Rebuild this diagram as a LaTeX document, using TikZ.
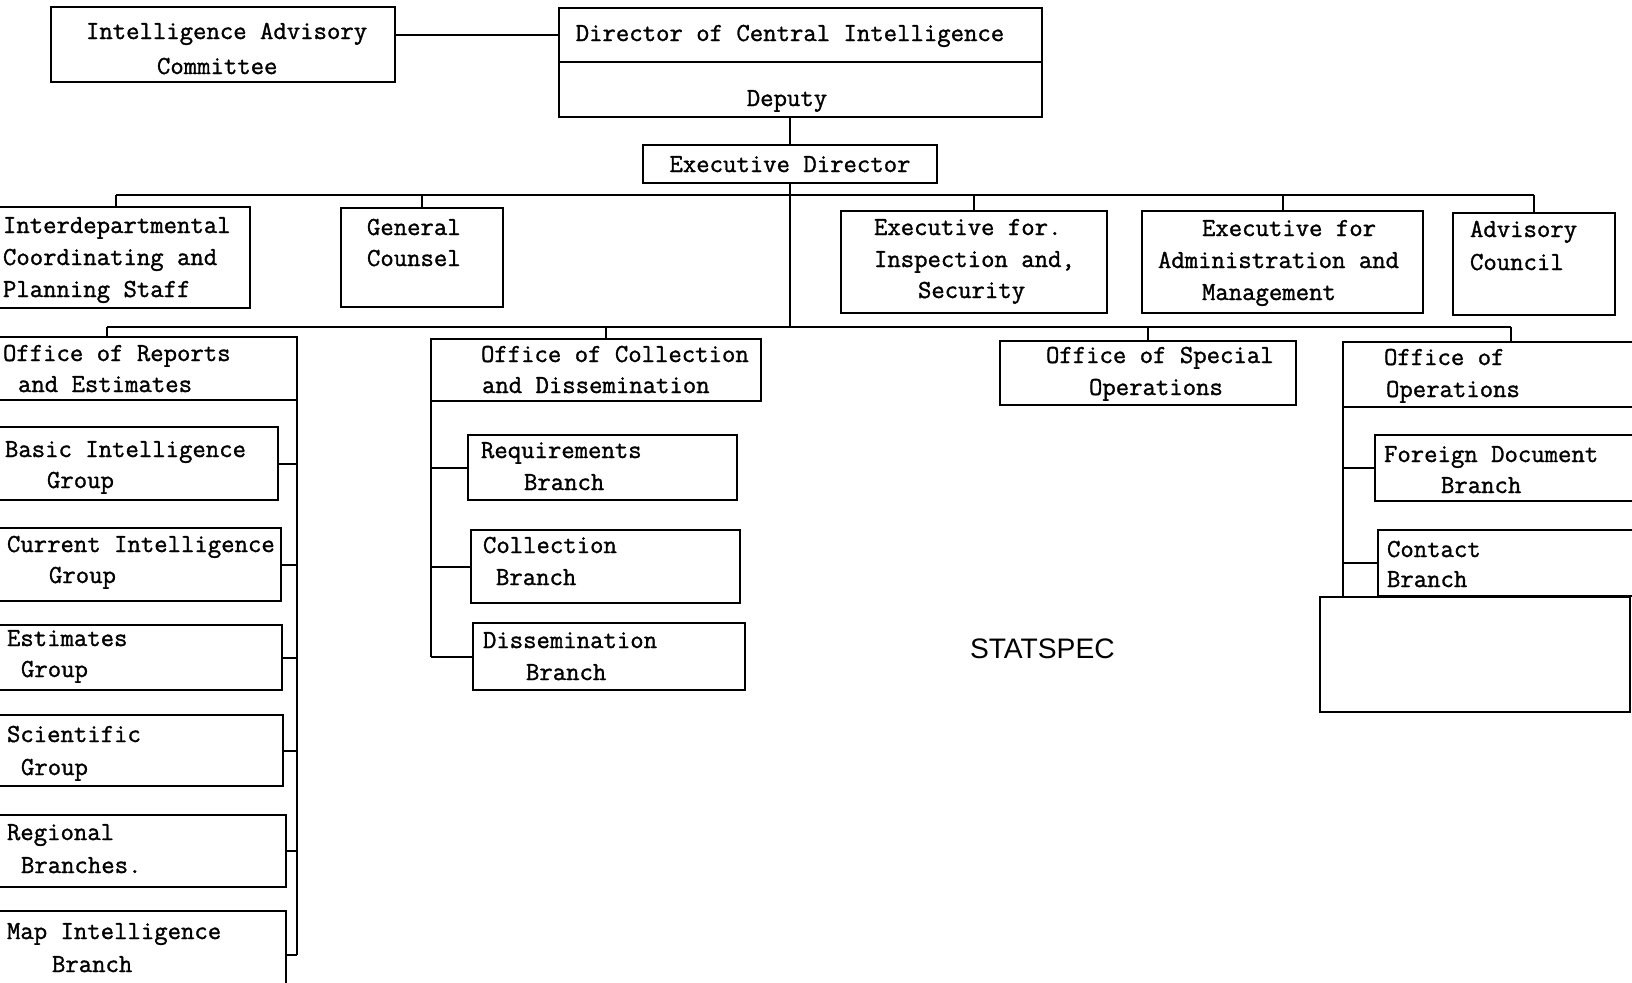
\documentclass[tikz,border=0pt]{standalone}
\usepackage{fontspec}
\newfontfamily\statfont{Liberation Sans}
\newfontfamily\typew{Latin Modern Mono}[FakeBold=1.2]
\tikzset{
  box/.style={draw=black, line width=1.25pt, inner sep=0pt, outer sep=0pt, rectangle},
  redact/.style={draw=black, fill=white, line width=1.4pt, inner sep=0pt, outer sep=0pt, rectangle},
  txt/.style={inner sep=0pt, outer sep=0pt, font=\typew\fontsize{13}{16}\selectfont},
  conn/.style={draw=black, line width=1pt},
}
\newcommand\bx[6][box]{\node[#1, anchor=north west, minimum width={(#5-#3)*0.5pt}, minimum height={(#6-#4)*0.5pt}] (#2) at (#3,#4) {};}
\newcommand\tl[5][base west]{\node[txt, anchor=#1] (#2) at (#3,#4) {#5};}
\begin{document}
\begin{tikzpicture}[x=0.5pt,y=-0.5pt]
\useasboundingbox (0,0) rectangle (1632,982);
\clip (0,0) rectangle (1632,982);
\fill[white] (0,0) rectangle (1632,982);
% boxes
\bx{iac}{51}{7}{395}{82}
\bx{dci}{559}{8}{1042}{62}
\bx{dep}{559}{62}{1042}{117}
\bx{ed}{643}{145}{937}{183}
\bx{idp}{-18}{207}{250}{308}
\bx{gc}{341}{208}{503}{307}
\bx{eis}{841}{211}{1107}{313}
\bx{eam}{1142}{211}{1423}{313}
\bx{adv}{1453}{213}{1615}{315}
\bx{ore}{-83}{337}{297}{400}
\bx{ocd}{431}{339}{761}{401}
\bx{oso}{1000}{341}{1296}{405}
\bx{ooo}{1343}{342}{1679}{407}
\bx{big}{-20}{427}{278}{500}
\bx{cig}{-20}{528}{281}{601}
\bx{esg}{-20}{625}{282}{690}
\bx{scg}{-20}{715}{283}{786}
\bx{rgb}{-20}{815}{286}{887}
\bx{mib}{-20}{911}{286}{999}
\bx{rqb}{468}{435}{737}{500}
\bx{clb}{471}{530}{740}{603}
\bx{dsb}{473}{623}{745}{690}
\bx{fdb}{1375}{435}{1700}{501}
\bx{cnb}{1378}{530}{1700}{596}
% connectors
\coordinate (sbus) at (0,195);
\coordinate (obus) at (0,327);
\coordinate (opsend) at (1343,597);
\draw[conn] (iac.east |- dci.west) -- (dci.west);
\draw[conn] (dep.south -| ed.north) -- (ed.north);
\draw[conn] (ed.south) -- (ed.south |- obus);
\draw[conn] (idp.north |- sbus) -- (adv.north |- sbus);
\foreach \n in {idp,gc,eis,eam,adv} \draw[conn] (\n.north) -- (\n.north |- sbus);
\draw[conn] (ore.north |- obus) -- (ooo.north |- obus);
\foreach \n in {ore,oso,ooo} \draw[conn] (\n.north) -- (\n.north |- obus);
\draw[conn] ([xshift=5pt]ocd.north) -- ([xshift=5pt]ocd.north |- obus);
\draw[conn] (ore.south east) -- (ore.south east |- mib.east);
\foreach \n in {big,cig,esg,scg,rgb,mib} \draw[conn] (\n.east) -- (ore.south east |- \n.east);
\draw[conn] (ocd.south west) -- (ocd.south west |- dsb.west);
\foreach \n in {rqb,clb,dsb} \draw[conn] (\n.west) -- (ocd.south west |- \n.west);
\draw[conn] (ooo.south west) -- (opsend);
\foreach \n in {fdb,cnb} \draw[conn] (\n.west) -- (ooo.south west |- \n.west);
% texts
\tl{t1}{86}{39}{Intelligence Advisory}
\tl{t2}{157}{74}{Committee}
\tl[base]{t3}{790}{41}{Director of Central Intelligence}
\tl[base]{t4}{787}{106}{Deputy}
\tl[base]{t5}{790}{172}{Executive Director}
\tl{t6}{3}{233}{Interdepartmental}
\tl{t7}{3}{265}{Coordinating and}
\tl{t8}{3}{297}{Planning Staff}
\tl{t9}{367}{235}{General}
\tl{t10}{367}{266}{Counsel}
\tl{t11}{874}{235}{Executive for.}
\tl{t12}{874}{267}{Inspection and,}
\tl{t13}{918}{298}{Security}
\tl{t14}{1202}{236}{Executive for}
\tl{t15}{1158}{268}{Administration and}
\tl{t16}{1202}{300}{Management}
\tl{t17}{1470}{237}{Advisory}
\tl{t18}{1470}{270}{Council}
\tl{t19}{3}{361}{Office of Reports}
\tl{t20}{18}{392}{and Estimates}
\tl{t21}{481}{362}{Office of Collection}
\tl{t22}{482}{393}{and Dissemination}
\tl{t23}{1046}{363}{Office of Special}
\tl{t24}{1089}{395}{Operations}
\tl{t25}{1384}{365}{Office of}
\tl{t26}{1386}{397}{Operations}
\tl{t27}{5}{457}{Basic Intelligence}
\tl{t28}{47}{488}{Group}
\tl{t29}{7}{552}{Current Intelligence}
\tl{t30}{49}{583}{Group}
\tl{t31}{7}{646}{Estimates}
\tl{t32}{21}{677}{Group}
\tl{t33}{7}{742}{Scientific}
\tl{t34}{21}{775}{Group}
\tl{t35}{7}{840}{Regional}
\tl{t36}{21}{873}{Branches.}
\tl{t37}{7}{939}{Map Intelligence}
\tl{t38}{52}{972}{Branch}
\tl{t39}{481}{458}{Requirements}
\tl{t40}{524}{490}{Branch}
\tl{t41}{483}{553}{Collection}
\tl{t42}{496}{585}{Branch}
\tl{t43}{483}{648}{Dissemination}
\tl{t44}{526}{680}{Branch}
\tl{t45}{1384}{462}{Foreign Document}
\tl{t46}{1441}{493}{Branch}
\tl{t47}{1387}{557}{Contact}
\tl{t48}{1387}{587}{Branch}
\node[inner sep=0pt, outer sep=0pt, anchor=base west, font=\statfont\fontsize{14.1}{17}\selectfont] (stat) at (970,658) {STATSPEC};
% redaction box
\bx[redact]{red}{1320}{597}{1630}{712}
\end{tikzpicture}
\end{document}
